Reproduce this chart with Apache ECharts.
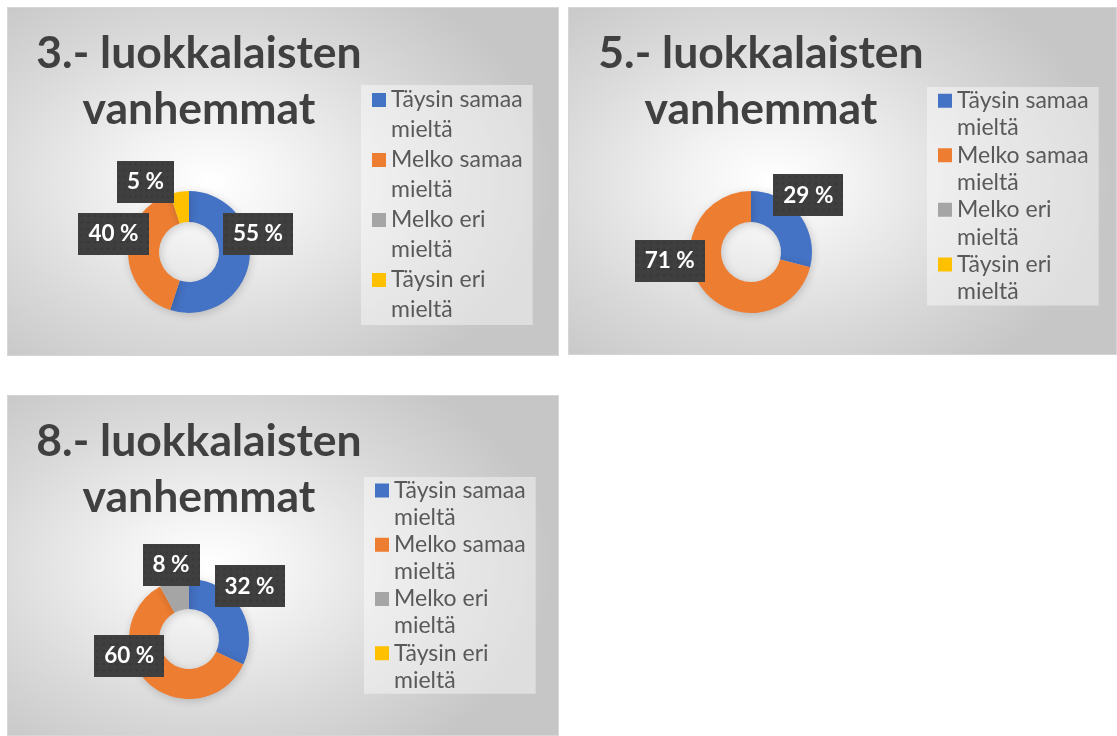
<!DOCTYPE html>
<html>
<head>
<meta charset="utf-8">
<script src="https://cdn.jsdelivr.net/npm/echarts@6/dist/echarts.min.js"></script>
<style>
  html, body { margin: 0; padding: 0; background: #ffffff; width: 1117px; height: 736px; overflow: hidden; }
  .panel {
    position: absolute;
    box-shadow: inset 0 0 0 1px #d6d6d6;
    background: radial-gradient(ellipse 62% 68% at 37% 50%, #ffffff 0%, #f2f2f2 25%, #d9d9d9 65%, #c6c6c6 100%);
  }
</style>
</head>
<body>
<div id="grade3" class="panel" style="left:7px;top:7px;width:552px;height:349px"></div>
<div id="grade5" class="panel" style="left:568px;top:7px;width:549px;height:348px"></div>
<div id="grade8" class="panel" style="left:7px;top:395px;width:552px;height:341px"></div>
<script>
// Answer categories shared by all three charts
const categories = ['Täysin samaa mieltä', 'Melko samaa mieltä', 'Melko eri mieltä', 'Täysin eri mieltä'];

// Chart titles
const grade3Title = '3.- luokkalaisten\nvanhemmat';
const grade5Title = '5.- luokkalaisten\nvanhemmat';
const grade8Title = '8.- luokkalaisten\nvanhemmat';

// Share of answers (%) per grade
const grade3Values = [55, 40, 0, 5];
const grade5Values = [29, 71, 0, 0];
const grade8Values = [32, 60, 8, 0];

// Office-style palette
const palette = ['#4472C4', '#ED7D31', '#A5A5A5', '#FFC000'];

// Panel layout: pie placement, legend placement, label nudges from the slice mid-ring
const panels = [
  { el: 'grade3', title: grade3Title, values: grade3Values, titleX: 192,
    center: [182, 245], radius: [30, 61], legend: [354, 78], lineH: 30,
    nudge: [[21, -26], [-27, -18], [0, 0], [-36, -22]] },
  { el: 'grade5', title: grade5Title, values: grade5Values, titleX: 193,
    center: [183, 245], radius: [30, 61], legend: [359, 80], lineH: 27.3,
    nudge: [[19, -27], [-43, -21], [0, 0], [0, 0]] },
  { el: 'grade8', title: grade8Title, values: grade8Values, titleX: 192,
    center: [182, 244], radius: [30, 60], legend: [357, 82], lineH: 27.1,
    nudge: [[20, -27], [-27, -18], [-6, -28], [0, 0]] }
];

// Dark dotted fill used behind the data labels
function dottedFill(w, h) {
  const c = document.createElement('canvas');
  c.width = w; c.height = h;
  const g = c.getContext('2d');
  g.fillStyle = '#3f3f3f';
  g.fillRect(0, 0, w, h);
  g.fillStyle = 'rgba(0,0,0,0.16)';
  for (let y = 3; y < h; y += 6.5) {
    for (let x = 3; x < w; x += 6.5) {
      g.beginPath();
      g.arc(x, y, 1.0, 0, Math.PI * 2);
      g.fill();
    }
  }
  return c;
}
const labelFill = dottedFill(69, 42);

panels.forEach(function (p) {
  const chart = echarts.init(document.getElementById(p.el), null, { renderer: 'canvas' });
  const sq = 14;
  const iconH = p.lineH + sq;
  chart.setOption({
    backgroundColor: 'transparent',
    animation: false,
    color: palette,
    title: {
      text: p.title,
      left: p.titleX,
      top: 19,
      padding: 0,
      textAlign: 'center',
      textStyle: {
        fontFamily: 'Lato',
        fontWeight: 'bold',
        fontSize: 44.5,
        lineHeight: 56,
        color: '#404040'
      }
    },
    legend: {
      orient: 'vertical',
      left: p.legend[0],
      top: p.legend[1],
      padding: [0, 10, 0, 11],
      itemGap: 0,
      itemWidth: sq,
      itemHeight: iconH,
      icon: 'path://M0,0h' + sq + 'v' + sq + 'h-' + sq + 'zM0,' + iconH + 'h0.01',
      selectedMode: false,
      backgroundColor: 'rgba(255,255,255,0.42)',
      data: categories,
      formatter: function (name) { return name.replace(' mieltä', '\nmieltä'); },
      itemStyle: { borderWidth: 0, shadowBlur: 0 },
      textStyle: {
        fontFamily: 'Lato',
        fontSize: 23,
        lineHeight: p.lineH,
        color: '#595959'
      }
    },
    series: [{
      type: 'pie',
      center: p.center,
      radius: p.radius,
      startAngle: 90,
      clockwise: true,
      avoidLabelOverlap: false,
      emphasis: { disabled: true },
      itemStyle: {
        borderWidth: 0,
        shadowBlur: 8,
        shadowColor: 'rgba(0,0,0,0.18)',
        shadowOffsetX: 1,
        shadowOffsetY: 2
      },
      labelLine: { show: false },
      label: {
        position: 'inside',
        formatter: '{c} %',
        fontFamily: 'Lato',
        fontWeight: 'bold',
        fontSize: 22.5,
        lineHeight: 26,
        color: '#ffffff',
        padding: [8, 10, 8, 10],
        backgroundColor: { image: labelFill },
        shadowColor: 'rgba(0,0,0,0.45)',
        shadowBlur: 6,
        shadowOffsetX: 2,
        shadowOffsetY: 3
      },
      labelLayout: function (params) {
        const n = p.nudge[params.dataIndex];
        return { dx: n[0], dy: n[1] };
      },
      data: categories.map(function (name, i) {
        return { name: name, value: p.values[i], label: { show: p.values[i] > 0 } };
      })
    }]
  });
});
</script>
</body>
</html>
